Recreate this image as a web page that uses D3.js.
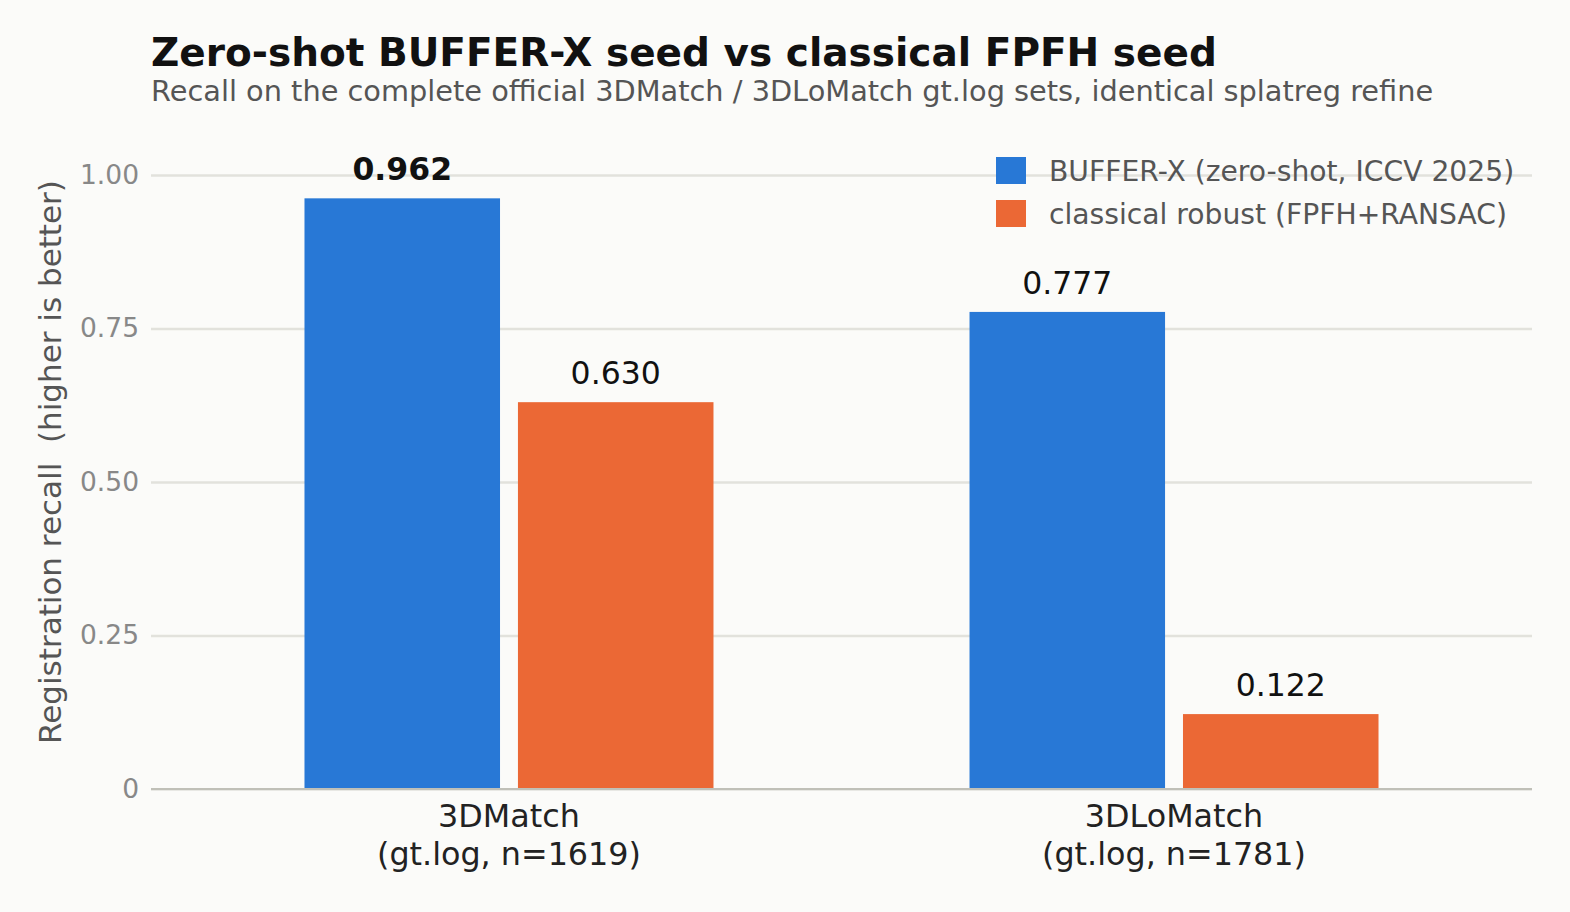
<!DOCTYPE html>
<html><head><meta charset="utf-8">
<script src="https://cdn.jsdelivr.net/npm/d3@7"></script>
<style>html,body{margin:0;padding:0;background:#fbfbf9;}svg{display:block;font-family:"DejaVu Sans",sans-serif;}</style>
</head><body><svg id="c" width="1570" height="912"></svg>
<script>
const categories = ["3DMatch", "3DLoMatch"];
const categorySub = ["(gt.log, n=1619)", "(gt.log, n=1781)"];
const seriesNames = ["BUFFER-X (zero-shot, ICCV 2025)", "classical robust (FPFH+RANSAC)"];
const bufferX = [0.962, 0.777];
const classical = [0.630, 0.122];
const yTicks = [0, 0.25, 0.5, 0.75, 1.0];
const yTickLabels = ["0", "0.25", "0.50", "0.75", "1.00"];
const colors = ["#2878d6", "#eb6835"];

(function () {
const svg = d3.select("#c");
const mL = 151, mR = 1532, mT = 175, mB = 789;
const y = d3.scaleLinear().domain([0, 1]).range([mB, mT]);
const x0 = d3.scaleBand().domain(categories).range([mL, mR]).paddingInner(0.385).paddingOuter(0.2308);
const x1 = d3.scaleBand().domain([0, 1]).range([0, x0.bandwidth()]).paddingInner(0.084);

svg.append("text").attr("x", 151).attr("y", 66).attr("font-size", 39).attr("font-weight", "bold").attr("fill", "#111")
  .text("Zero-shot BUFFER-X seed vs classical FPFH seed");
svg.append("text").attr("x", 151).attr("y", 101).attr("font-size", 28.8).attr("fill", "#555")
  .text("Recall on the complete official 3DMatch / 3DLoMatch gt.log sets, identical splatreg refine");

const yAxis = d3.axisLeft(y).tickValues(yTicks).tickSize(-(mR - mL)).tickPadding(12)
  .tickFormat((d, i) => yTickLabels[i]);
const gy = svg.append("g").attr("transform", `translate(${mL},0)`).call(yAxis);
gy.attr("font-size", null).attr("font-family", null);
gy.select(".domain").remove();
gy.selectAll(".tick line").attr("stroke", "#e2e2dc").attr("stroke-width", 2.5);
gy.selectAll(".tick text").style("font-size", "26.5px").attr("fill", "#888");

const series = [bufferX, classical];
categories.forEach((c, ci) => {
  series.forEach((s, si) => {
    const bx = x0(c) + x1(si);
    svg.append("rect").attr("x", bx).attr("y", y(s[ci])).attr("width", x1.bandwidth())
      .attr("height", y(0) - y(s[ci])).attr("fill", colors[si]);
    svg.append("text").attr("x", bx + x1.bandwidth() / 2).attr("y", y(s[ci]) - 18)
      .attr("text-anchor", "middle").attr("font-size", 31.5)
      .attr("font-weight", (ci === 0 && si === 0) ? "bold" : "normal").attr("fill", "#111")
      .text(s[ci].toFixed(3));
  });
});

svg.append("line").attr("x1", mL).attr("x2", mR).attr("y1", y(0)).attr("y2", y(0))
  .attr("stroke", "#c0c0b8").attr("stroke-width", 2);

categories.forEach((c, ci) => {
  const cx = x0(c) + x0.bandwidth() / 2;
  svg.append("text").attr("x", cx).attr("y", 827).attr("text-anchor", "middle").attr("font-size", 31.8).attr("fill", "#222").text(c);
  svg.append("text").attr("x", cx).attr("y", 865).attr("text-anchor", "middle").attr("font-size", 31.8).attr("fill", "#222").text(categorySub[ci]);
});

svg.append("text").attr("transform", `translate(61,462) rotate(-90)`)
  .attr("text-anchor", "middle").attr("font-size", 31).attr("fill", "#555")
  .style("white-space", "pre")
  .text("Registration recall  (higher is better)");

seriesNames.forEach((n, i) => {
  const ly = 157 + i * 43;
  svg.append("rect").attr("x", 996).attr("y", ly).attr("width", 30).attr("height", 27).attr("fill", colors[i]);
  svg.append("text").attr("x", 1049).attr("y", ly + 24).attr("font-size", 28.2).attr("fill", "#555").text(n);
});
})();
</script></body></html>
